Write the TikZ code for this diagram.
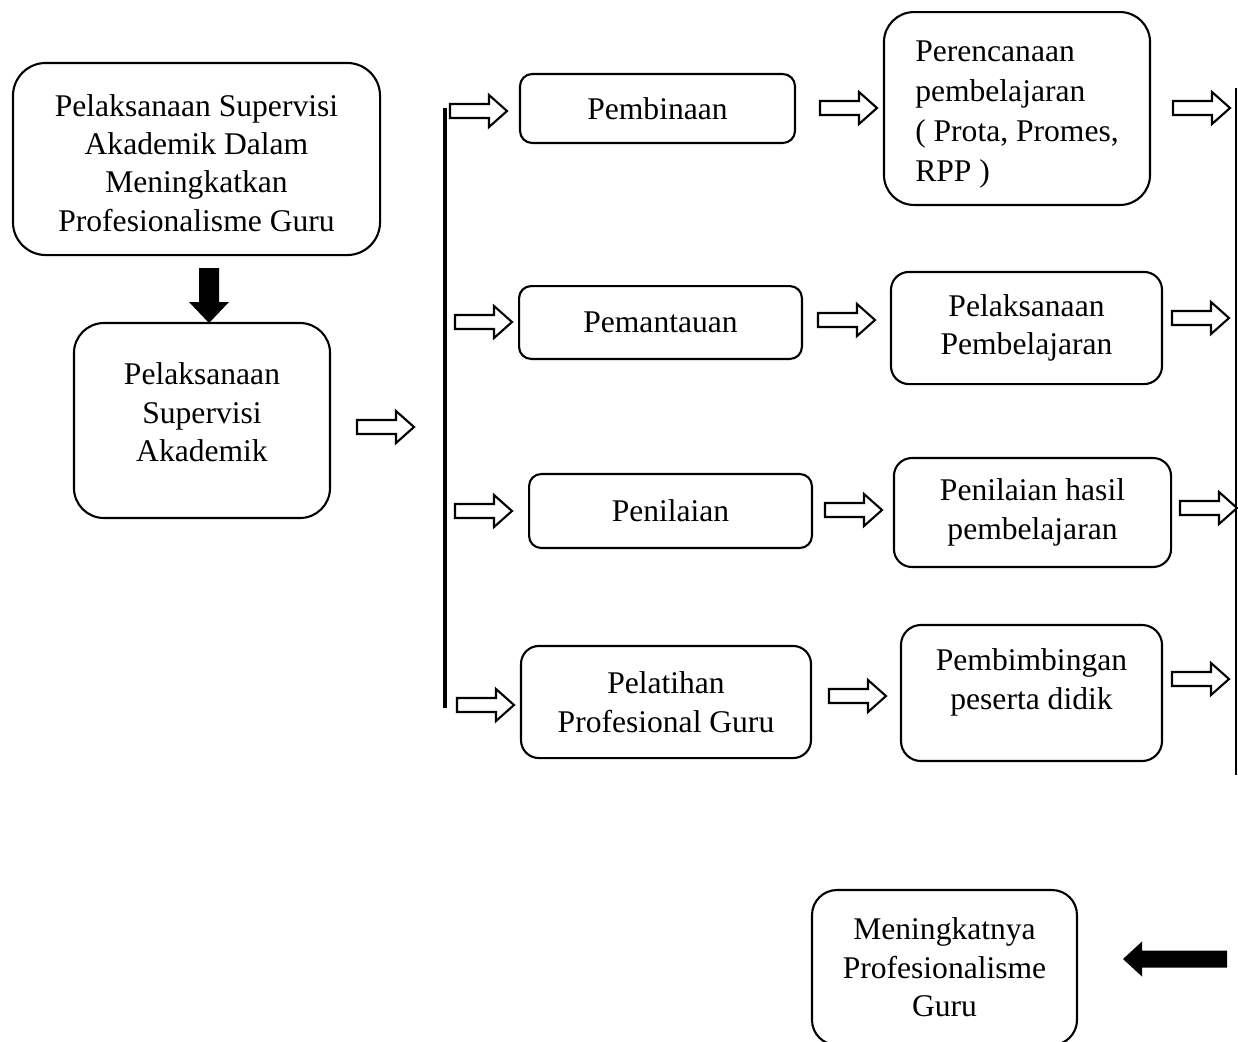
\documentclass[tikz,border=0pt]{standalone}
\usepackage{fontspec}
\setmainfont{Liberation Serif}
\usepackage{tikz}

\begin{document}
\begin{tikzpicture}[
        x=0.38pt, y=-0.38pt,
        box/.style={rectangle, draw=black, line width=0.8pt, rounded corners=6pt, align=center, inner sep=0pt, font=\fontsize{12}{14.6}\selectfont},
        boxtext/.style={align=center, inner sep=0pt, font=\fontsize{12}{14.6}\selectfont},
        hollowarrow/.pic={\draw[line width=0.8pt] (0,-7) -- (39,-7) -- (39,-16) -- (57,0) -- (39,16) -- (39,7) -- (0,7) -- cycle;},
        blackdown/.pic={\fill[black] (-10,0) -- (10,0) -- (10,34) -- (20,34) -- (0,55) -- (-20,34) -- (-10,34) -- cycle;},
        blackleft/.pic={\fill[black] (0,-8.5) -- (-85,-8.5) -- (-85,-17.5) -- (-104,0) -- (-85,17.5) -- (-85,8.5) -- (0,8.5) -- cycle;}
    ]
        \clip (0,0) rectangle (1238,1041);

        % left column
        \node[box, minimum width=139.5pt, minimum height=73pt, rounded corners=12.5pt, label={[boxtext, yshift=-1.5pt]center:Pelaksanaan Supervisi\\Akademik Dalam\\Meningkatkan\\Profesionalisme Guru}] (judul) at (196.5,159) {};
        \node[box, minimum width=97.3pt, minimum height=74.1pt, rounded corners=11.4pt, label={[boxtext, yshift=3pt]center:Pelaksanaan\\Supervisi\\Akademik}] (supervisi) at (202,420.5) {};
        \pic at (209,268) {blackdown};
        \pic at (357,427) {hollowarrow};

        % trunk lines
        \coordinate (trunktop) at (445,108);
        \coordinate (trunkbot) at (445,708);
        \draw[line width=1.5pt] (trunktop) -- (trunkbot);
        \coordinate (railtop) at (1236,88);
        \coordinate (railbot) at (1236,775);
        \draw[line width=0.6pt] (railtop) -- (railbot);

        % middle column
        \node[box, minimum width=104.5pt, minimum height=26.2pt, rounded corners=4.6pt] (pembinaan) at (657.5,108.5) {Pembinaan};
        \node[box, minimum width=107.5pt, minimum height=27.7pt, rounded corners=4.6pt] (pemantauan) at (660.5,322.5) {Pemantauan};
        \node[box, minimum width=107.5pt, minimum height=28.1pt, rounded corners=4.6pt] (penilaian) at (670.5,511) {Penilaian};
        \node[box, minimum width=110.2pt, minimum height=42.6pt, rounded corners=6.8pt] (pelatihan) at (666,702) {Pelatihan\\Profesional Guru};

        % right column
        \node[box, minimum width=101.1pt, minimum height=73.3pt, rounded corners=11.4pt, label={[boxtext, align=left, font=\fontsize{12}{15.2}\selectfont, yshift=-2.2pt]center:Perencanaan\\pembelajaran\\( Prota, Promes,\\RPP )}] (perencanaan) at (1017,108.5) {};
        \node[box, minimum width=103pt, minimum height=42.6pt, rounded corners=6.8pt] (pelaksanaan) at (1026.5,328) {Pelaksanaan\\Pembelajaran};
        \node[box, minimum width=105.3pt, minimum height=41.4pt, rounded corners=6.8pt] (hasil) at (1032.5,512.5) {Penilaian hasil\\pembelajaran};
        \node[box, minimum width=99.2pt, minimum height=51.7pt, rounded corners=7.6pt, label={[boxtext, yshift=4pt]center:Pembimbingan\\peserta didik}] (pembimbingan) at (1031.5,693) {};

        % result
        \node[box, minimum width=100.7pt, minimum height=58.9pt, rounded corners=9.5pt] (hasilakhir) at (944.5,967.5) {Meningkatnya\\Profesionalisme\\Guru};
        \pic at (1227,959) {blackleft};

        % block arrows
        \pic at (450,111) {hollowarrow};
        \pic at (455,322) {hollowarrow};
        \pic at (455,511) {hollowarrow};
        \pic at (457,705) {hollowarrow};
        \pic at (820,108) {hollowarrow};
        \pic at (818,320) {hollowarrow};
        \pic at (825,510) {hollowarrow};
        \pic at (829,696) {hollowarrow};
        \pic at (1173,108) {hollowarrow};
        \pic at (1172,318) {hollowarrow};
        \pic at (1180,508) {hollowarrow};
        \pic at (1172,679) {hollowarrow};
\end{tikzpicture}
\end{document}
